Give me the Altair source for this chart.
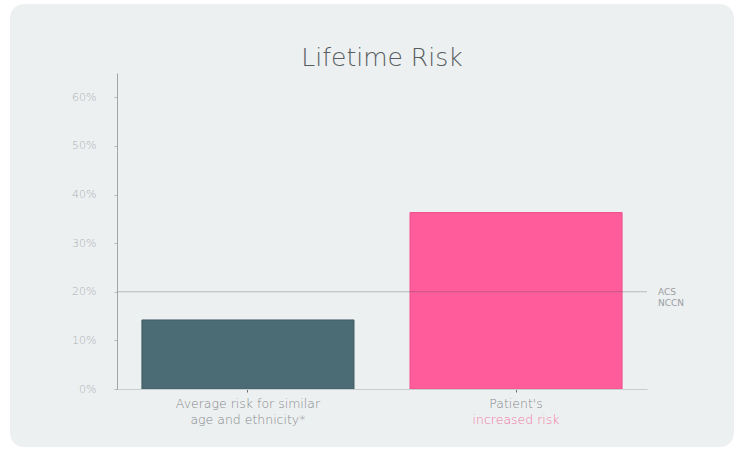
import altair as alt
import pandas as pd

categories = ["average", "patient"]
risk_values = [0.142, 0.363]
bar_colors = ["#4b6b75", "#ff5c9c"]
bar_strokes = ["#3f5c66", "#f0508f"]
label_line1 = ["Average risk for similar", "Patient's"]
label_line2 = ["age and ethnicity*", "increased risk"]
label_line1_colors = ["#85898c", "#85898c"]
label_line2_colors = ["#85898c", "#f07aa6"]
y_ticks = [0, 0.1, 0.2, 0.3, 0.4, 0.5, 0.6]
guideline_value = [0.2]
guideline_label = ["ACS", "NCCN"]
title_text = ["Lifetime Risk"]

W, H = 530, 316
PAD_L, PAD_T = 117, 73

bars = pd.DataFrame({
    "cat": categories,
    "risk": risk_values,
    "fill": bar_colors,
    "stroke": bar_strokes,
    "l1": label_line1,
    "l2": label_line2,
    "c1": label_line1_colors,
    "c2": label_line2_colors,
})
ref = pd.DataFrame({"v": guideline_value, "t": [guideline_label]})
title_df = pd.DataFrame({"t": title_text})

FONT = "DejaVu Sans"

xscale = alt.Scale(domain=categories, paddingInner=0.209, paddingOuter=0.093)
yscale = alt.Scale(domain=[0, 0.65], nice=False)

card = alt.Chart(title_df).mark_rect(
    color="#edf0f1", cornerRadius=14
).encode(
    x=alt.value(10 - PAD_L), x2=alt.value(734 - PAD_L),
    y=alt.value(4 - PAD_T), y2=alt.value(447 - PAD_T),
)

title = alt.Chart(title_df).mark_text(
    fontSize=25, font=FONT, fontWeight=200, color="#575d60", baseline="alphabetic"
).encode(
    x=alt.value(W / 2), y=alt.value(66 - PAD_T), text="t:N",
)

bar_layer = alt.Chart(bars).mark_bar(strokeWidth=1).encode(
    x=alt.X("cat:N", scale=xscale, sort=categories,
            axis=alt.Axis(title=None, labels=False, domainColor="#c9cdcf",
                          tickColor="#6b6f72", tickSize=3, domainWidth=1, zindex=1)),
    y=alt.Y("risk:Q", scale=yscale,
            axis=alt.Axis(title=None, format=".0%", values=y_ticks, grid=False,
                          domainColor="#a0a4a7", tickColor="#b5b9bb", tickSize=3,
                          labelColor="#abafb2", labelFontSize=11, labelPadding=18,
                          labelFont=FONT, labelFontWeight=200, zindex=1)),
    fill=alt.Fill("fill:N", scale=None),
    stroke=alt.Stroke("stroke:N", scale=None),
)

rule = alt.Chart(ref).mark_rule(color="#50575b", opacity=0.35, strokeWidth=1.2).encode(
    y=alt.Y("v:Q", scale=yscale),
    x=alt.value(0), x2=alt.value(W),
)

ref_text = alt.Chart(ref).mark_text(
    align="left", baseline="middle", dx=0, fontSize=9, color="#9a9ea1",
    font=FONT, lineHeight=11
).encode(
    y=alt.Y("v:Q", scale=yscale),
    x=alt.value(W + 11),
    text="t",
)

lab1 = alt.Chart(bars).mark_text(
    baseline="middle", fontSize=12.5, font=FONT, fontWeight=200
).encode(
    x=alt.X("cat:N", scale=xscale, sort=categories),
    y=alt.value(H + 15),
    text="l1:N",
    color=alt.Color("c1:N", scale=None),
)
lab2 = alt.Chart(bars).mark_text(
    baseline="middle", fontSize=12.5, font=FONT, fontWeight=200
).encode(
    x=alt.X("cat:N", scale=xscale, sort=categories),
    y=alt.value(H + 31),
    text="l2:N",
    color=alt.Color("c2:N", scale=None),
)

chart = alt.layer(card, title, bar_layer, rule, ref_text, lab1, lab2).properties(
    width=W, height=H,
    autosize=alt.AutoSizeParams(type="none"),
    padding={"left": PAD_L, "top": PAD_T, "right": 741 - PAD_L - W, "bottom": 451 - PAD_T - H},
    background="#ffffff",
).configure_view(stroke=None)

chart.save("out.html", embed_options={"renderer": "svg", "actions": False})
